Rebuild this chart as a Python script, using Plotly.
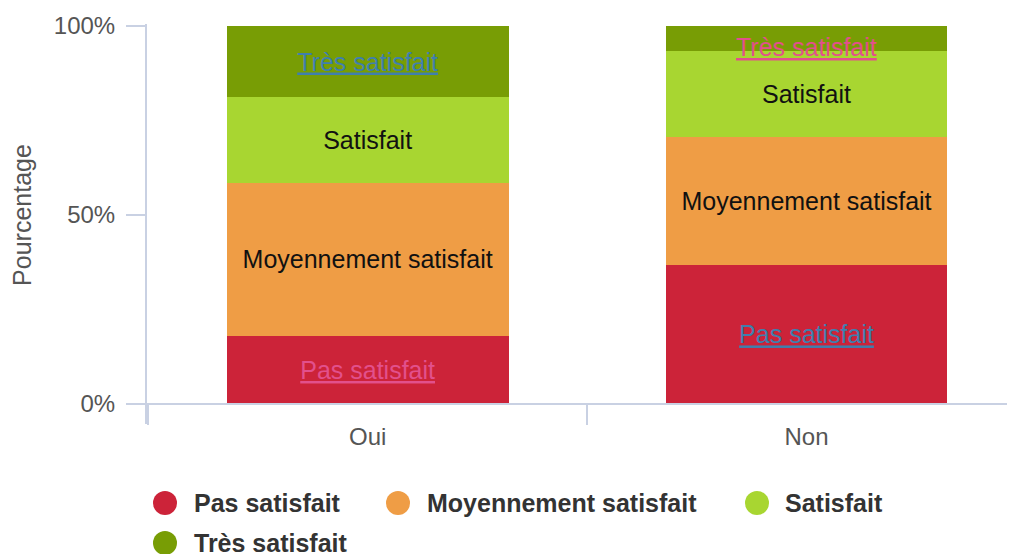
import plotly.graph_objects as go

categories = ["Oui", "Non"]
series_names = ["Pas satisfait", "Moyennement satisfait", "Satisfait", "Très satisfait"]
pas_satisfait = [18.0, 36.8]
moyennement = [40.5, 33.8]
satisfait = [22.7, 22.8]
tres_satisfait = [18.8, 6.6]
y_ticks = [0, 50, 100]
y_tick_labels = ["0%", "50%", "100%"]

colors = ["#CC2339", "#EF9D45", "#A8D631", "#789D05"]
PINK = "#E2508C"
BLUE = "#3F7FAE"
label_colors = [
    [PINK, BLUE],
    ["#111111", "#111111"],
    ["#111111", "#111111"],
    [BLUE, PINK],
]
underline = [True, False, False, True]
values = [pas_satisfait, moyennement, satisfait, tres_satisfait]

FONT = "Liberation Sans, Arial, sans-serif"
AXIS_COLOR = "#C9D1E3"

# page body has an 8px margin: work in window pixels, convert to figure pixels
OFF = 8
WIN_W, WIN_H = 1015, 554
W, H = WIN_W - OFF, WIN_H - OFF
PL, PR, PT, PB = 146, 1015, 26, 404  # plot area in window pixels
L, R, T, B = PL - OFF, WIN_W - PR, PT - OFF, WIN_H - PB
PW = PR - PL
PH = PB - PT


def px_x(px):
    return (px - PL) / PW


def px_y(py):
    return (PB - py) / PH


# segments too thin for their label get the label as an annotation instead
MIN_FIT = 10.0

fig = go.Figure()
annotations = []
base = [0.0] * len(categories)
for name, vals, col, lc, ul in zip(series_names, values, colors, label_colors, underline):
    texts = []
    for i, v in enumerate(vals):
        if v < MIN_FIT:
            texts.append("")
            annotations.append(dict(
                x=categories[i], y=base[i] + v / 2, xref="x", yref="y",
                text=name, showarrow=False, yshift=-9,
                font=dict(family=FONT, size=25, color=lc[i],
                          lineposition="under" if ul else "none")))
        else:
            texts.append(name)
    fig.add_trace(go.Bar(
        x=categories, y=vals, name=name,
        marker=dict(color=col, line=dict(width=0)),
        width=0.642,
        text=texts,
        textposition="inside",
        insidetextanchor="middle",
        textangle=0,
        constraintext="none",
        textfont=dict(family=FONT, size=25, color=lc,
                      lineposition="under" if ul else "none"),
        showlegend=False,
        hoverinfo="skip",
    ))
    base = [b + v for b, v in zip(base, vals)]

shapes = []
# y axis line
shapes.append(dict(type="line", xref="paper", yref="paper",
                   x0=0, x1=0, y0=px_y(424), y1=px_y(24),
                   line=dict(color=AXIS_COLOR, width=2)))
# x axis line
shapes.append(dict(type="line", xref="paper", yref="paper",
                   x0=px_x(127), x1=1, y0=0, y1=0,
                   line=dict(color=AXIS_COLOR, width=2)))

# custom legend
legend_items = [
    (series_names[0], colors[0], 165, 192, 503),
    (series_names[1], colors[1], 398, 425, 503),
    (series_names[2], colors[2], 757, 783, 503),
    (series_names[3], colors[3], 165, 192, 543),
]
for name, col, cx, tx, cy in legend_items:
    shapes.append(dict(type="circle", xref="paper", yref="paper",
                       xsizemode="pixel", ysizemode="pixel",
                       xanchor=px_x(cx), yanchor=px_y(cy),
                       x0=-12, x1=12, y0=-12, y1=12,
                       fillcolor=col, line=dict(width=0)))
    annotations.append(dict(xref="paper", yref="paper", x=px_x(tx), y=px_y(cy),
                            xanchor="left", yanchor="middle", showarrow=False,
                            text="<b>" + name + "</b>",
                            font=dict(family=FONT, size=25, color="#333333")))

fig.update_layout(
    width=W, height=H,
    margin=dict(l=L, r=R, t=T, b=B, pad=0),
    barmode="stack",
    paper_bgcolor="white", plot_bgcolor="white",
    showlegend=False,
    shapes=shapes,
    annotations=annotations,
    font=dict(family=FONT),
    xaxis=dict(
        type="category", range=[-0.505, 1.475],
        showgrid=False, zeroline=False, showline=False,
        ticks="outside", tickson="boundaries", ticklen=20, tickwidth=2,
        tickcolor=AXIS_COLOR, ticklabelstandoff=16,
        tickfont=dict(family=FONT, size=24, color="#555555"),
    ),
    yaxis=dict(
        range=[0, 100], showgrid=False, zeroline=False, showline=False,
        tickvals=y_ticks, ticktext=y_tick_labels,
        ticks="outside", ticklen=19, tickwidth=2, tickcolor=AXIS_COLOR,
        ticklabelstandoff=6,
        tickfont=dict(family=FONT, size=24, color="#555555"),
        title=dict(text="Pourcentage", font=dict(family=FONT, size=25, color="#555555"),
                   standoff=16),
    ),
)

fig.write_html("out.html")
